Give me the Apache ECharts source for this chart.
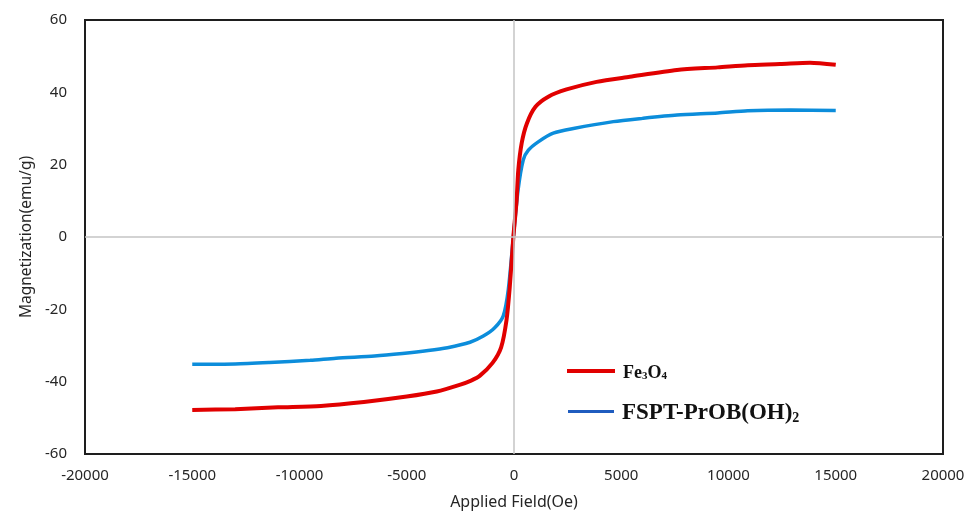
<!DOCTYPE html>
<html>
<head>
<meta charset="utf-8">
<script src="https://cdn.jsdelivr.net/npm/echarts@6/dist/echarts.min.js"></script>
<style>
html,body{margin:0;padding:0;background:#fff;}
#chart{width:970px;height:516px;}
</style>
</head>
<body>
<div id="chart"></div>
<script>
// Fe3O4 (red)
var fe3o4Field = [-15000,-13000,-11000,-9000,-7000,-5000,-3600,-2500,-2000,-1600,-1000,-600,-350,-200,-30,120,200,360,600,1000,1600,2450,3850,5400,7600,9500,10900,12400,13800,15000];
var fe3o4M = [-47.8,-47.6,-47.1,-46.7,-45.6,-44.1,-42.7,-40.8,-39.7,-38.4,-34.8,-30.5,-23,-14,0,10,18.5,26,31.4,36,38.8,40.8,42.9,44.3,46.2,46.9,47.5,47.8,48.2,47.6];
// FSPT-PrOB(OH)2 (blue)
var fsptField = [-15000,-13000,-11400,-9500,-8300,-6500,-5200,-4000,-3100,-2050,-1430,-900,-500,-265,-30,190,430,670,1130,1830,2770,4630,6000,7600,9500,10900,12900,15000];
var fsptM = [-35.2,-35.1,-34.7,-34.1,-33.5,-32.9,-32.2,-31.4,-30.6,-29.1,-27.4,-25.1,-21.8,-14.5,0,13,21.3,24,26.3,28.7,30,31.9,32.8,33.7,34.3,34.9,35.1,35];
var seriesNames = ['Fe3O4', 'FSPT-PrOB(OH)2'];
var xTitle = 'Applied Field(Oe)';
var yTitle = 'Magnetization(emu/g)';

function pairs(xs, ys){ return xs.map(function(x,i){ return [x, ys[i]]; }); }

var chart = echarts.init(document.getElementById('chart'), null, {renderer:'canvas'});
var axisFont = {fontFamily:'Noto Sans', color:'#262626'};
var legendRich = {
  a: {fontFamily:'Liberation Serif', fontWeight:'bold', fontSize:18, color:'#111', lineHeight:22, verticalAlign:'bottom'},
  s: {fontFamily:'Liberation Serif', fontWeight:'bold', fontSize:11, color:'#111', lineHeight:11, verticalAlign:'bottom'},
  b: {fontFamily:'Liberation Serif', fontWeight:'bold', fontSize:23, color:'#111', lineHeight:27, verticalAlign:'bottom'},
  t: {fontFamily:'Liberation Serif', fontWeight:'bold', fontSize:14, color:'#111', lineHeight:13, verticalAlign:'bottom'},
  g: {width:3}
};
chart.setOption({
  animation:false,
  backgroundColor:'#fff',
  grid:{left:85, right:27, top:20, bottom:62, show:true, borderColor:'#1e1e1e', borderWidth:2, backgroundColor:'transparent'},
  legend:[
    {data:[{name:seriesNames[0], icon:'rect'}], left:562, top:359, itemWidth:48, itemHeight:4,
     formatter:function(){ return '{g|}{a|Fe}{s|3}{a|O}{s|4}'; }, textStyle:{rich:legendRich}},
    {data:[{name:seriesNames[1], icon:'rect', itemStyle:{color:'#1f5cbf'}}], left:563, top:397, itemWidth:46, itemHeight:3,
     formatter:function(){ return '{g|}{b|FSPT-PrOB(OH)}{t|2}'; }, textStyle:{rich:legendRich}}
  ],
  xAxis:{type:'value', min:-20000, max:20000, interval:5000,
    name:xTitle, nameLocation:'middle', nameGap:40,
    nameTextStyle:{fontFamily:'Noto Sans', fontSize:16, color:'#262626'},
    axisLine:{show:false}, axisTick:{show:false}, splitLine:{show:false},
    axisLabel:Object.assign({fontSize:15, margin:14, formatter:function(v){ return String(v); }}, axisFont)},
  yAxis:{type:'value', min:-60, max:60, interval:20,
    name:yTitle, nameLocation:'middle', nameGap:50, nameRotate:90,
    nameTextStyle:{fontFamily:'Noto Sans', fontSize:15.5, color:'#262626'},
    axisLine:{show:false}, axisTick:{show:false}, splitLine:{show:false},
    axisLabel:Object.assign({fontSize:15, margin:18}, axisFont)},
  series:[
    {type:'line', name:'zero', data:[], z:1, silent:true,
     markLine:{silent:true, symbol:'none', label:{show:false}, animation:false,
       lineStyle:{color:'#c4c4c4', width:1.5, type:'solid'},
       data:[{xAxis:0},{yAxis:0}]}},
    {type:'line', name:seriesNames[0], data:pairs(fe3o4Field, fe3o4M), showSymbol:false, symbol:'none',
     smooth:0.25, color:'#e10000', lineStyle:{width:4, color:'#e10000'}, z:3},
    {type:'line', name:seriesNames[1], data:pairs(fsptField, fsptM), showSymbol:false, symbol:'none',
     smooth:0.25, color:'#0c8ddb', lineStyle:{width:3.5, color:'#0c8ddb'}, z:2}
  ]
});
</script>
</body>
</html>
